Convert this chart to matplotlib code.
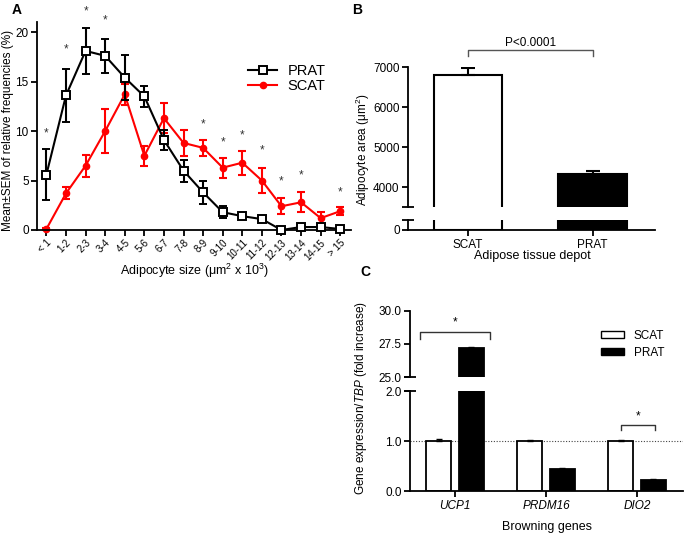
import numpy as np
import matplotlib
matplotlib.use("Agg")
import matplotlib.pyplot as plt
from matplotlib.patches import Patch
from matplotlib.lines import Line2D

plt.rcParams['font.family'] = ['Liberation Sans', 'DejaVu Sans']
plt.rcParams['mathtext.fontset'] = 'custom'
plt.rcParams['mathtext.rm'] = 'Liberation Sans'
plt.rcParams['mathtext.it'] = 'Liberation Sans:italic'
plt.rcParams['axes.linewidth'] = 1.3
plt.rcParams['xtick.major.width'] = 1.3
plt.rcParams['ytick.major.width'] = 1.3
plt.rcParams['xtick.major.size'] = 4
plt.rcParams['ytick.major.size'] = 4
plt.rcParams['xtick.labelsize'] = 8.5
plt.rcParams['ytick.labelsize'] = 8.5
plt.rcParams['xtick.major.pad'] = 2.5
plt.rcParams['ytick.major.pad'] = 2

# ---- panel A: size distribution
size_bins = ["< 1", "1-2", "2-3", "3-4", "4-5", "5-6", "6-7", "7-8", "8-9", "9-10",
             "10-11", "11-12", "12-13", "13-14", "14-15", "> 15"]
prat_freq = [5.6, 13.6, 18.1, 17.6, 15.4, 13.5, 9.1, 6.0, 3.8, 1.8, 1.4, 1.1, 0.0, 0.3, 0.3, 0.1]
prat_sem = [2.6, 2.7, 2.3, 1.7, 2.3, 1.1, 1.0, 1.1, 1.2, 0.6, 0.2, 0.3, 0.1, 0.2, 0.2, 0.1]
scat_freq = [0.1, 3.7, 6.5, 10.0, 13.7, 7.5, 11.3, 8.8, 8.3, 6.3, 6.8, 5.0, 2.4, 2.8, 1.2, 1.9]
scat_sem = [0.1, 0.6, 1.1, 2.2, 1.1, 1.0, 1.5, 1.3, 0.8, 1.0, 1.2, 1.3, 0.8, 1.0, 0.6, 0.4]
star_bins = [0, 1, 2, 3, 8, 9, 10, 11, 12, 13, 15]
star_y = [9.8, 18.2, 22.1, 21.2, 10.7, 8.8, 9.6, 8.0, 4.9, 5.5, 3.8]

# ---- panel B: adipocyte area
depots = ["SCAT", "PRAT"]
area_mean = [6800, 4330]
area_sem = [170, 80]

# ---- panel C: browning genes
genes = ["UCP1", "PRDM16", "DIO2"]
gene_scat = [1.0, 1.0, 1.0]
gene_scat_sem = [0.04, 0.02, 0.02]
gene_prat = [27.2, 0.44, 0.22]
gene_prat_sem = [0.1, 0.02, 0.03]

W, H = 685, 535
fig = plt.figure(figsize=(6.85, 5.35), dpi=100)


def px_axes(x0, x1, y0, y1):
    # rectangle in pixel coordinates (top-left origin)
    return fig.add_axes([x0 / W, 1 - y1 / H, (x1 - x0) / W, (y1 - y0) / H])


def strip(ax):
    ax.spines['top'].set_visible(False)
    ax.spines['right'].set_visible(False)


# ================= A =================
axA = px_axes(37, 351, 21.7, 230)
x = np.arange(len(size_bins))
axA.errorbar(x, prat_freq, yerr=prat_sem, color='black', lw=1.5, marker='s', ms=6,
             mfc='white', mec='black', mew=1.4, capsize=3, capthick=1.5, elinewidth=1.5,
             zorder=3, clip_on=False)
axA.errorbar(x, scat_freq, yerr=scat_sem, color='red', lw=1.5, marker='o', ms=4.5,
             capsize=3, capthick=1.5, elinewidth=1.5, zorder=2, clip_on=False)
for b, yy in zip(star_bins, star_y):
    axA.text(b, yy, "*", ha='center', va='center', fontsize=8.5, color='#333333', clip_on=False)
axA.set_xlim(-0.48, 15.55)
axA.set_ylim(0, 21.05)
axA.set_yticks([0, 5, 10, 15, 20])
axA.set_xticks(x)
axA.set_xticklabels(size_bins, rotation=45, ha='right', rotation_mode='anchor', fontsize=7)
axA.tick_params(axis='x', pad=1.5)
strip(axA)
legA = [Line2D([], [], color='black', lw=1.5, marker='s', ms=6, mfc='white', mew=1.4),
        Line2D([], [], color='red', lw=1.5, marker='o', ms=4.5)]
axA.legend(handles=legA, labels=['PRAT', 'SCAT'], loc='upper left',
           bbox_to_anchor=(0.63, 0.86), frameon=False, fontsize=10.5,
           handlelength=2.0, labelspacing=0.1, handletextpad=0.7)
fig.text(8 / W, 1 - 130 / H, "Mean±SEM of relative frequencies (%)", rotation=90,
         ha='center', va='center', fontsize=8.5)
fig.text(195 / W, 1 - 271 / H, "Adipocyte size (μm$^2$ x 10$^3$)", ha='center',
         va='center', fontsize=9)
fig.text(17 / W, 1 - 10 / H, "A", ha='center', va='center', fontsize=10, fontweight='bold')

# ================= B =================
axBt = px_axes(408, 655, 67, 207)
axBb = px_axes(408, 655, 220, 230)
xb = np.arange(len(depots))
for ax in (axBt, axBb):
    ax.bar(xb, area_mean, width=0.55, color=['white', 'black'], edgecolor='black', linewidth=1.5)
    ax.set_xlim(-0.48, 1.5)
    strip(ax)
axBt.errorbar(xb, area_mean, yerr=[[0, 0], area_sem], fmt='none', ecolor='black',
              elinewidth=1.5, capsize=5, capthick=1.5)
axBt.set_ylim(3500, 7000)
axBt.set_yticks([4000, 5000, 6000, 7000])
axBt.spines['bottom'].set_visible(False)
axBt.tick_params(axis='x', bottom=False, labelbottom=False)
axBb.set_ylim(0, 250)
axBb.set_yticks([0])
axBb.set_xticks(xb)
axBb.set_xticklabels(depots, fontsize=8.5)
for ax, yy in ((axBt, 0), (axBb, 1)):
    ax.plot([0], [yy], marker='_', ms=8, mew=1.3, color='black',
            transform=ax.transAxes, clip_on=False)
# significance bracket
axBt.plot([0, 0, 1, 1], [7275, 7425, 7425, 7275], color='#555555', lw=1, clip_on=False)
axBt.text(0.5, 7590, "P<0.0001", ha='center', va='center', fontsize=8.5)
fig.text(363 / W, 1 - 150 / H, "Adipocyte area (μm$^2$)", rotation=90, ha='center',
         va='center', fontsize=8.5)
fig.text(532 / W, 1 - 256 / H, "Adipose tissue depot", ha='center', va='center', fontsize=9)
fig.text(357 / W, 1 - 10 / H, "B", ha='center', va='center', fontsize=10, fontweight='bold')

# ================= C =================
axCt = px_axes(410, 683, 310.7, 377.3)
axCb = px_axes(410, 683, 391, 491.3)
xc = np.arange(len(genes))
off = 0.18
bw = 0.275
for ax in (axCt, axCb):
    ax.bar(xc - off, gene_scat, width=bw, color='white', edgecolor='black', linewidth=1.3)
    ax.bar(xc + off, gene_prat, width=bw, color='black', edgecolor='black', linewidth=1.3)
    ax.errorbar(xc - off, gene_scat, yerr=[[0] * 3, gene_scat_sem], fmt='none',
                ecolor='black', elinewidth=1, capsize=2.5, capthick=1)
    ax.errorbar(xc + off, gene_prat, yerr=[[0] * 3, gene_prat_sem], fmt='none',
                ecolor='black', elinewidth=1, capsize=2.5, capthick=1)
    ax.set_xlim(-0.495, 2.505)
    strip(ax)
axCt.set_ylim(25, 30)
axCt.set_yticks([25, 27.5, 30])
axCt.set_yticklabels(["25.0", "27.5", "30.0"])
axCt.spines['bottom'].set_visible(False)
axCt.tick_params(axis='x', bottom=False, labelbottom=False)
axCb.set_ylim(0, 2)
axCb.set_yticks([0, 1, 2])
axCb.set_yticklabels(["0.0", "1.0", "2.0"])
axCb.set_xticks(xc)
axCb.set_xticklabels(genes, fontsize=8.5, style='italic')
axCb.axhline(1.0, color='#444444', lw=0.8, ls=(0, (1, 1.5)), zorder=0)
for ax, yy in ((axCt, 0), (axCb, 1)):
    ax.plot([0], [yy], marker='_', ms=8, mew=1.3, color='black',
            transform=ax.transAxes, clip_on=False)
# brackets
axCt.plot([-0.38, -0.38, 0.38, 0.38], [27.9, 28.4, 28.4, 27.9], color='#333333', lw=1, clip_on=False)
axCt.text(0, 29.1, "*", ha='center', va='center', fontsize=8.5)
axCb.plot([1.82, 1.82, 2.2, 2.2], [1.23, 1.33, 1.33, 1.23], color='#333333', lw=1)
axCb.text(2.01, 1.5, "*", ha='center', va='center', fontsize=8.5)
axCt.legend(handles=[Patch(facecolor='white', edgecolor='black', lw=1),
                     Patch(facecolor='black', edgecolor='black', lw=1)],
            labels=['SCAT', 'PRAT'], loc='upper left', bbox_to_anchor=(0.66, 0.87),
            frameon=False, fontsize=8.5, handlelength=2.0, handleheight=0.5,
            labelspacing=0.4, handletextpad=0.8)
fig.text(361 / W, 1 - 398 / H, "Gene expression/$\\it{TBP}$ (fold increase)", rotation=90,
         ha='center', va='center', fontsize=8.5)
fig.text(547 / W, 1 - 527 / H, "Browning genes", ha='center', va='center', fontsize=9)
fig.text(365 / W, 1 - 272 / H, "C", ha='center', va='center', fontsize=10, fontweight='bold')

fig.savefig("out.png", dpi=100)
